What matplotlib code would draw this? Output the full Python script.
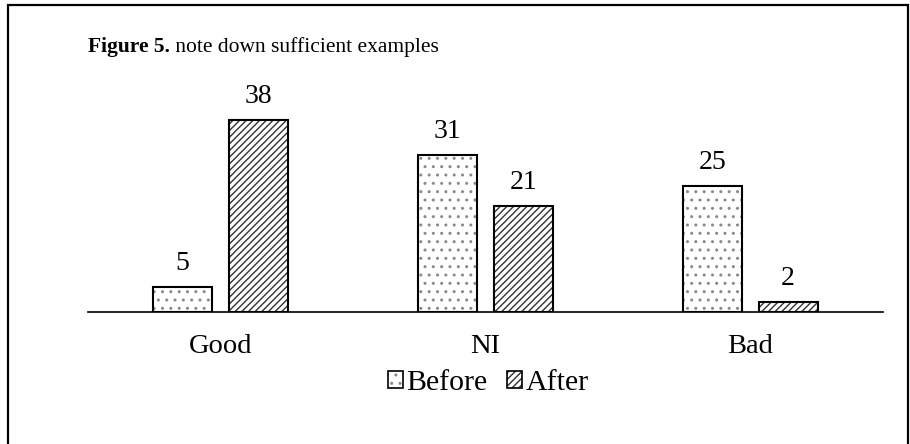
import numpy as np
import matplotlib.pyplot as plt
from matplotlib.patches import Rectangle, Patch

plt.rcParams['font.family'] = ['Liberation Serif', 'DejaVu Serif']
plt.rcParams['hatch.linewidth'] = 1.0

categories = ['Good', 'NI', 'Bad']
before = [5, 31, 25]
after = [38, 21, 2]

fig = plt.figure(figsize=(9.1, 4.44), dpi=100)
ax = fig.add_axes([0.0967, 0.2973, 0.8733, 0.455])

x = np.arange(len(categories))
w = 0.222
off = 0.143

# hatch layer first (hatch takes edge colour), then a black outline on top
ax.bar(x - off, before, w, color='white', edgecolor='#8a8a8a', linewidth=0, hatch='..')
ax.bar(x + off, after, w, color='white', edgecolor='#333333', linewidth=0, hatch='/////')
b1 = ax.bar(x - off, before, w, fill=False, edgecolor='black', linewidth=1.5)
b2 = ax.bar(x + off, after, w, fill=False, edgecolor='black', linewidth=1.5)

ax.bar_label(b1, padding=8, fontsize=20)
ax.bar_label(b2, padding=8, fontsize=20)

ax.set_xlim(-0.5, 2.5)
ax.set_ylim(0, 40)
ax.set_xticks(x)
ax.set_xticklabels(categories, fontsize=20.5)
ax.tick_params(axis='x', length=0, pad=16)
ax.set_yticks([])
for s in ['top', 'right', 'left']:
    ax.spines[s].set_visible(False)
ax.spines['bottom'].set_linewidth(1.2)

h_before = (Patch(facecolor='white', edgecolor='#8a8a8a', linewidth=0, hatch='..'),
            Patch(fill=False, edgecolor='black', linewidth=1.2))
h_after = (Patch(facecolor='white', edgecolor='#333333', linewidth=0, hatch='/////'),
           Patch(fill=False, edgecolor='black', linewidth=1.2))
fig.legend([h_before, h_after], ['Before', 'After'], loc='center',
           bbox_to_anchor=(488 / 910, 1 - 383 / 444),
           ncol=2, frameon=False, fontsize=21.5, handlelength=0.5, handleheight=0.5,
           handletextpad=0.12, columnspacing=0.65)

t1 = fig.text(88 / 910, 1 - 47 / 444, 'Figure 5.', fontsize=15.5, fontweight='bold',
              va='center', ha='left')
ax.annotate(' note down sufficient examples', xy=(1, 0.5), xycoords=t1,
            va='center', ha='left', fontsize=15.5, annotation_clip=False)

fig.patches.append(Rectangle((0.0093, -0.1), 0.988, 1.088, transform=fig.transFigure,
                             fill=False, edgecolor='black', linewidth=1.6))

fig.savefig('out.png', dpi=100)
